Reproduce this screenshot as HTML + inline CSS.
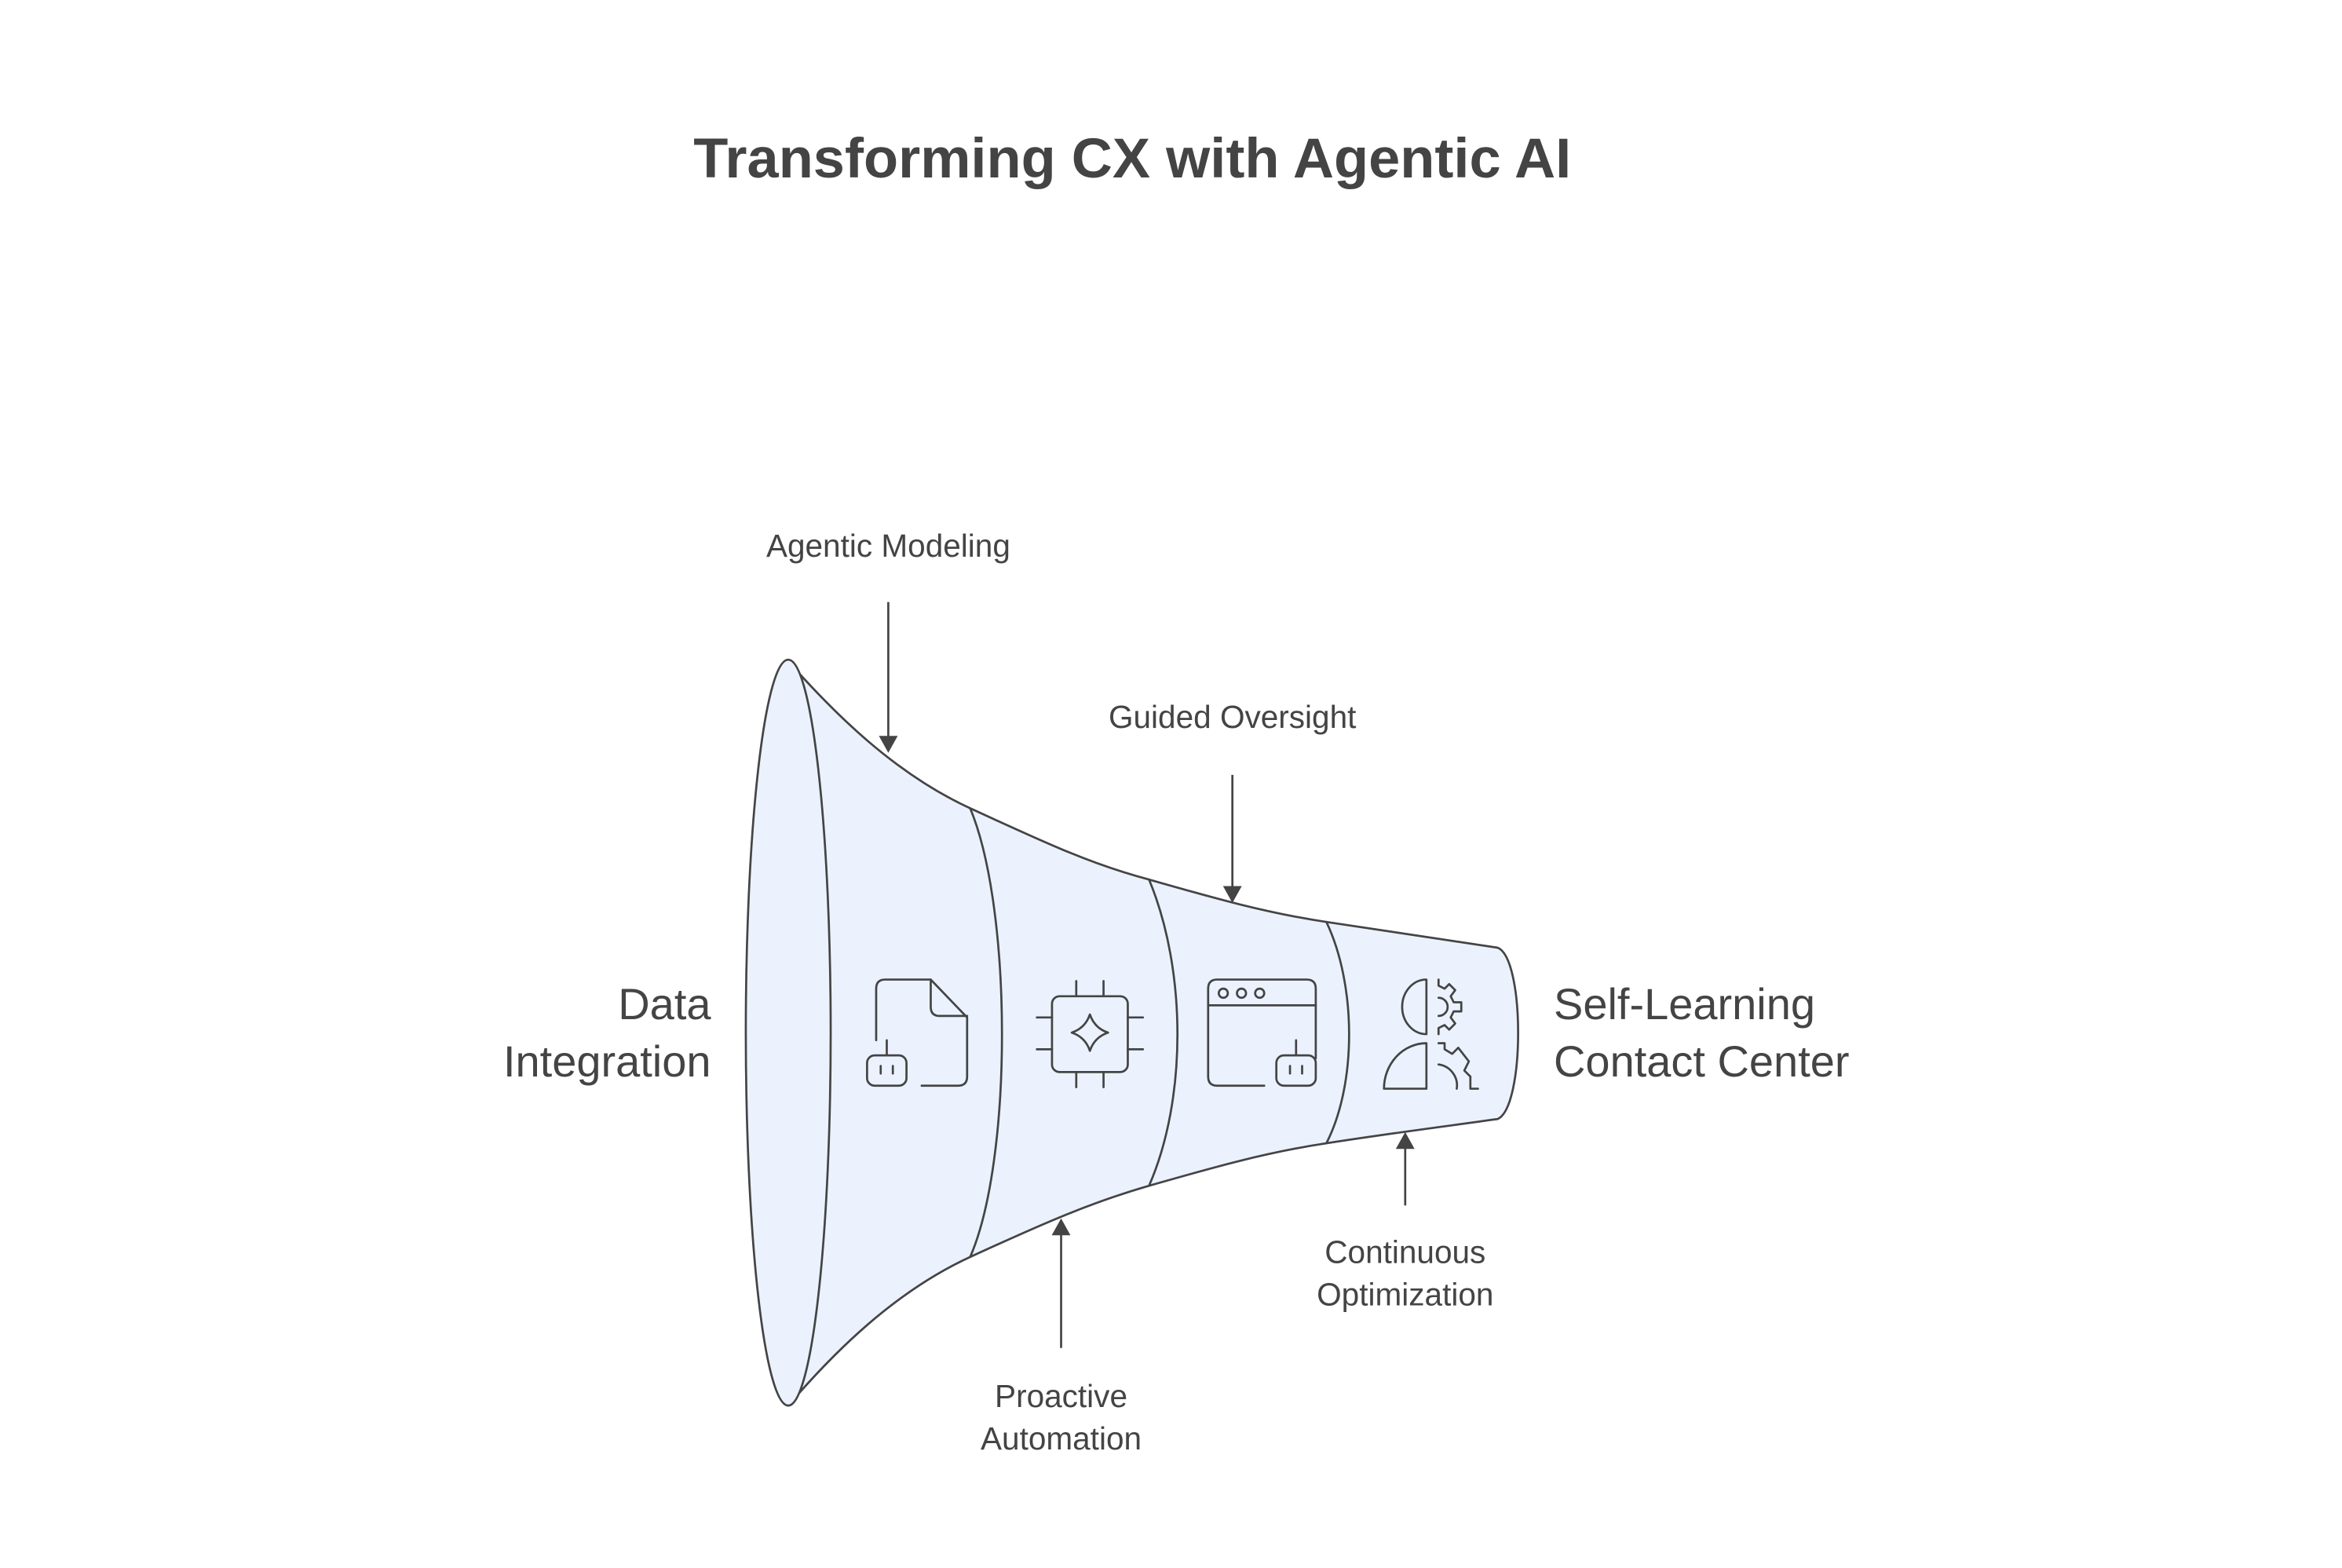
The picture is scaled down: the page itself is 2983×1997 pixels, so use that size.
<!DOCTYPE html>
<html><head><meta charset="utf-8"><style>
html,body{margin:0;padding:0;background:#fff;}
svg{display:block;}
text{font-family:"Liberation Sans",sans-serif;fill:#444;}
</style></head><body>
<svg width="2983" height="1997" viewBox="0 0 1545 1034" xmlns="http://www.w3.org/2000/svg">
<rect width="1545" height="1034" fill="#fff"/>
<text x="747" y="117" text-anchor="middle" font-size="37" font-weight="bold" textLength="579" lengthAdjust="spacingAndGlyphs">Transforming CX with Agentic AI</text>

<g stroke="#444" stroke-width="1.4" fill="#ebf2fe" stroke-linejoin="round" stroke-linecap="round">
<path d="M520,436 C550,470 590,510 640,533 C690,556 720,570 758,580 C800,592 835,602 875,608 C920,615 960,621 988,625 C1006,632 1006,730 988,738 C960,742 920,747 875,754 C835,760 800,770 758,782 C720,793 690,806 640,829 C590,852 550,892 520,927 Z"/>
<ellipse cx="520" cy="681" rx="28" ry="246"/>
<path d="M640,533 C668,600 668,765 640,829" fill="none"/>
<path d="M758,580 C783,640 783,725 758,782" fill="none"/>
<path d="M875,608 C895,650 895,715 875,754" fill="none"/>
</g>

<g stroke="#444" stroke-width="1.4" fill="none" stroke-linecap="round" stroke-linejoin="round">
<path d="M578,686 V652 Q578,646 584,646 H614 L638,671 V710 Q638,716 632,716 H608"/>
<path d="M614,646 V664 Q614,670 620,670 H638"/>
<rect x="572" y="696" width="26" height="20" rx="5"/>
<path d="M585,686 V696 M581,703 V708 M589,703 V708"/>
<rect x="694" y="657" width="50" height="50" rx="5"/>
<path d="M710,647 V657 M728,647 V657 M710,707 V717 M728,707 V717 M684,671 H694 M684,692 H694 M744,671 H754 M744,692 H754"/>
<path d="M719,669 Q722,678 731,681 Q722,684 719,693 Q716,684 707,681 Q716,678 719,669Z"/>
<path d="M834,716 H803 Q797,716 797,710 V652 Q797,646 803,646 H862 Q868,646 868,652 V698"/>
<path d="M797,663 H868"/>
<circle cx="807" cy="655" r="3"/><circle cx="819" cy="655" r="3"/><circle cx="831" cy="655" r="3"/>
<rect x="842" y="696" width="26" height="20" rx="5"/>
<path d="M855,686 V696 M851,703 V708 M859,703 V708"/>
<path d="M941,646 A16,18 0 0 0 941,682 Z"/>
<path d="M941,688 V718 H913 A28,30 0 0 1 941,688 Z"/>
<path d="M949,658 A6,6 0 0 1 949,670"/>
<path d="M949,646 V650 L953,652 L956,649 L960,653 L957,657 L959,661 H964 V667 H959 L957,671 L960,675 L956,679 L953,676 L949,678 V682"/>
<path d="M949,702 A14,14 0 0 1 961,718"/>
<path d="M949,688 H953 V692 L958,695 L962,691 L969,700 L966,706 L970,710 V718 L975,718"/>
</g>

<g stroke="#444" stroke-width="1.4" fill="#444">
<line x1="586" y1="397" x2="586" y2="488"/><path d="M581,486 L591,486 L586,495 Z"/>
<line x1="813" y1="511" x2="813" y2="587"/><path d="M808,585 L818,585 L813,594 Z"/>
<line x1="700" y1="889" x2="700" y2="812"/><path d="M695,814 L705,814 L700,805 Z"/>
<line x1="927" y1="795" x2="927" y2="755"/><path d="M922,757 L932,757 L927,748 Z"/>
</g>

<g font-size="21">
<text x="586" y="367" text-anchor="middle">Agentic Modeling</text>
<text x="813" y="480" text-anchor="middle">Guided Oversight</text>
<text x="700" y="928" text-anchor="middle">Proactive</text>
<text x="700" y="956" text-anchor="middle">Automation</text>
<text x="927" y="833" text-anchor="middle">Continuous</text>
<text x="927" y="861" text-anchor="middle">Optimization</text>
</g>
<g font-size="29">
<text x="469" y="672" text-anchor="end">Data</text>
<text x="469" y="710" text-anchor="end">Integration</text>
<text x="1025" y="672">Self-Learning</text>
<text x="1025" y="710">Contact Center</text>
</g>
</svg>
</body></html>
